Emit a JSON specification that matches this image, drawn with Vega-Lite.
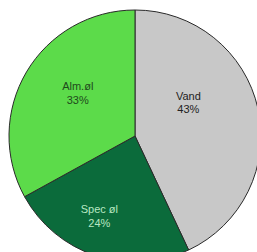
{
  "$schema": "https://vega.github.io/schema/vega-lite/v6.json",
  "width": 270,
  "height": 272,
  "autosize": {"type": "none"},
  "padding": 0,
  "background": "white",
  "config": {"view": {"stroke": null}},
  "data": {"values": [
    {"Kategori": "Vand", "Andel": 43, "Orden": 1},
    {"Kategori": "Spec øl", "Andel": 24, "Orden": 2},
    {"Kategori": "Alm.øl", "Andel": 33, "Orden": 3}
  ]},
  "transform": [
    {"calculate": "[datum.Kategori, datum.Andel + '%']", "as": "Label"}
  ],
  "encoding": {
    "theta": {"field": "Andel", "type": "quantitative", "stack": true},
    "order": {"field": "Orden", "type": "quantitative"}
  },
  "layer": [
    {
      "mark": {"type": "arc", "outerRadius": 126, "stroke": "#2a2a2a", "strokeWidth": 1},
      "encoding": {
        "color": {
          "field": "Kategori", "type": "nominal", "legend": null,
          "scale": {"domain": ["Vand", "Spec øl", "Alm.øl"], "range": ["#c8c8c8", "#0b6b3b", "#5cdb4a"]}
        }
      }
    },
    {
      "mark": {"type": "text", "radius": 70, "dx": -15, "dy": -24, "font": "Liberation Sans", "fontSize": 11, "lineHeight": 13, "fill": "#222222"},
      "encoding": {
        "text": {"condition": {"test": "datum.Kategori === 'Vand'", "field": "Label"}, "value": ""}
      }
    },
    {
      "mark": {"type": "text", "radius": 70, "dx": -14, "dy": 7, "font": "Liberation Sans", "fontSize": 11, "lineHeight": 14, "fill": "#b8e8c2"},
      "encoding": {
        "text": {"condition": {"test": "datum.Kategori === 'Spec øl'", "field": "Label"}, "value": ""}
      }
    },
    {
      "mark": {"type": "text", "radius": 70, "dx": 3, "dy": -13, "font": "Liberation Sans", "fontSize": 11, "lineHeight": 14, "fill": "#1f4a1c"},
      "encoding": {
        "text": {"condition": {"test": "datum.Kategori === 'Alm.øl'", "field": "Label"}, "value": ""}
      }
    }
  ]
}
